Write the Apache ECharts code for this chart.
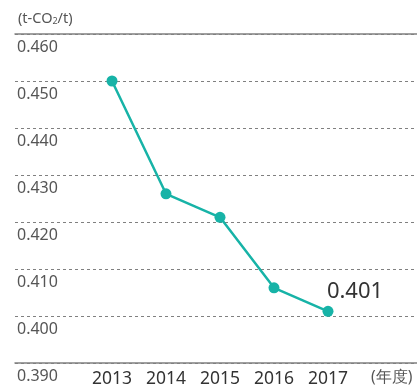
<!DOCTYPE html>
<html>
<head>
<meta charset="utf-8">
<script src="https://cdn.jsdelivr.net/npm/echarts@6/dist/echarts.min.js"></script>
<style>
  html, body { margin: 0; padding: 0; background: #fff; }
  #chart { width: 417px; height: 388px; }
</style>
</head>
<body>
<div id="chart"></div>
<script>
// CO2 emission intensity by fiscal year
const years = ['2013', '2014', '2015', '2016', '2017'];
const intensity = [0.450, 0.426, 0.421, 0.406, 0.401];
const yMin = 0.39, yMax = 0.46, yStep = 0.01;

const FONT = '"Noto Sans", sans-serif';
const teal = '#17b3a7';
const lineGray = '#808080';

const chart = echarts.init(document.getElementById('chart'));

const seriesData = intensity.map((v, i) => i === intensity.length - 1
  ? { value: v, label: { show: true } }
  : v);

chart.setOption({
  animation: false,
  title: {
    text: '(t-CO{s|2}/t)',
    left: 13, top: 6,
    textStyle: {
      fontFamily: FONT, fontSize: 14.5, fontWeight: 'normal', color: '#555',
      rich: { s: { fontFamily: FONT, fontSize: 9, color: '#555', verticalAlign: 'bottom', padding: [6, 0, 0, 0] } }
    }
  },
  grid: [
    { left: 15, right: 0, top: 34, bottom: 25 },
    { left: 85, right: 62, top: 34, bottom: 25 }
  ],
  xAxis: [
    { gridIndex: 0, type: 'value', min: 0, max: 1, position: 'bottom',
      axisLine: { show: true, lineStyle: { color: lineGray, width: 1.5 } },
      axisTick: { show: false }, axisLabel: { show: false }, splitLine: { show: false } },
    { gridIndex: 0, type: 'value', min: 0, max: 1, position: 'top',
      axisLine: { show: true, lineStyle: { color: lineGray, width: 1.5 } },
      axisTick: { show: false }, axisLabel: { show: false }, splitLine: { show: false } },
    { gridIndex: 1, type: 'category', data: years, boundaryGap: true,
      axisLine: { show: false }, axisTick: { show: false },
      axisLabel: { color: '#333', fontFamily: FONT, fontSize: 17.5, margin: 7 },
      name: '(年度)', nameLocation: 'end', nameGap: 16,
      nameTextStyle: { color: '#555', fontFamily: FONT, fontSize: 15.5, verticalAlign: 'top', padding: [7, 0, 0, 0] } }
  ],
  yAxis: [
    { gridIndex: 0, type: 'value', min: yMin, max: yMax, interval: yStep,
      axisLine: { show: false }, axisTick: { show: false },
      axisLabel: { inside: true, margin: 2, color: '#555', fontFamily: FONT, fontSize: 16,
        verticalAlign: 'top', padding: [5, 0, 0, 0],
        formatter: v => v.toFixed(3) },
      splitLine: { show: true, lineStyle: { color: lineGray, type: [3, 3], width: 1 } } },
    { gridIndex: 1, type: 'value', min: yMin, max: yMax, show: false, splitLine: { show: false } }
  ],
  series: [{
    type: 'line',
    xAxisIndex: 2, yAxisIndex: 1,
    data: seriesData,
    symbol: 'circle', symbolSize: 11,
    lineStyle: { color: teal, width: 2.5 },
    itemStyle: { color: teal },
    label: { show: false, position: 'top', distance: 6, offset: [27, 3],
      color: '#333', fontFamily: FONT, fontSize: 22,
      formatter: p => p.value.toFixed(3) }
  }]
});
</script>
</body>
</html>
